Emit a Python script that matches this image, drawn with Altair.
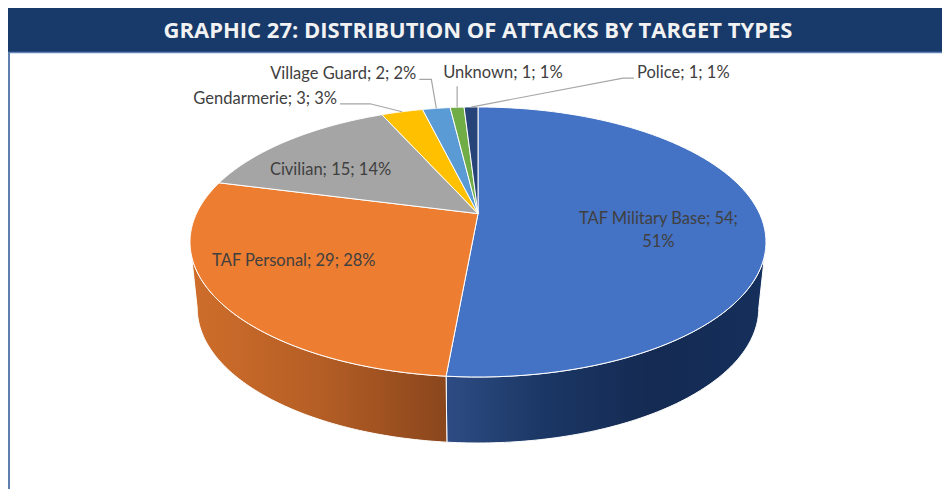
import altair as alt
import pandas as pd

# ---------------- data ----------------
categories = ["TAF Military Base", "TAF Personal", "Civilian", "Gendarmerie",
              "Village Guard", "Unknown", "Police"]
counts = [54, 29, 15, 3, 2, 1, 1]
slice_colors = ["#4472c4", "#ed7d31", "#a5a5a5", "#ffc000", "#5b9bd5", "#70ad47", "#264478"]
title_text = "GRAPHIC 27: DISTRIBUTION OF ATTACKS BY TARGET TYPES"

# ---------------- layout / style ----------------
W, H = 934, 481
CX, CY = 470, 234          # centre of the top ellipse (chart px)
A_PX, B_PX = 288, 135      # semi-axes of the top ellipse (px)
DEPTH = 66 / 135           # pie thickness in y data units
LAM = 0.808                # perspective compression of angles
C0 = (1 - LAM * LAM) / (1 + LAM * LAM)   # projected centre of the pie (y units)
N = 90                     # points per arc
BSX = 0.975                # bottom rim slightly narrower (perspective)

# label placement: r = fraction from centre to rim, dx/dy pixel offsets
label_layout = {
    "TAF Military Base": dict(r=0.6, dx=10, dy=2, align="center", wrap=1, lead=0, k=(0, 0, 0, 0)),
    "TAF Personal":      dict(r=0.6, dx=-27, dy=-3, align="center", wrap=0, lead=0, k=(0, 0, 0, 0)),
    "Civilian":          dict(r=0.6, dx=-34, dy=0, align="center", wrap=0, lead=0, k=(0, 0, 0, 0)),
    "Gendarmerie":       dict(r=1.0, dx=-65, dy=-13, align="right", wrap=0, lead=1, k=(-32, -8, -62, -8)),
    "Village Guard":     dict(r=1.0, dx=-20, dy=-34, align="right", wrap=0, lead=1, k=(-5, -29, -17, -29)),
    "Unknown":           dict(r=1.0, dx=-14, dy=-34, align="left", wrap=0, lead=1, k=(0, -21, 0, -21)),
    "Police":            dict(r=1.0, dx=166, dy=-34, align="left", wrap=0, lead=1, k=(152, -29, 163, -29)),
}

wall_gradients = {
    "TAF Military Base": [("#2e4c84", 0.0), ("#1b3765", 0.3), ("#142a52", 0.65), ("#15305c", 1.0)],
    "TAF Personal": [("#cf6e2b", 0.0), ("#b55e25", 0.5), ("#8a461c", 1.0)],
}

rows = []
for i, (c, n) in enumerate(zip(categories, counts)):
    lay = label_layout[c]
    rows.append(dict(cat=c, n=n, order=i, lr=lay["r"], ldx=lay["dx"], ldy=lay["dy"],
                     lalign=lay["align"], wrap=lay["wrap"], lead=lay["lead"],
                     k1x=lay["k"][0], k1y=lay["k"][1], k2x=lay["k"][2], k2y=lay["k"][3]))
df = pd.DataFrame(rows)

xs = alt.Scale(domain=[-1, 1], range=[CX - A_PX, CX + A_PX], nice=False, zero=False)
ys = alt.Scale(domain=[-1, 1], range=[CY + B_PX, CY - B_PX], nice=False, zero=False)
cscale = alt.Scale(domain=categories, range=slice_colors)


def phi(e):
    return f"2*atan2({LAM}*sin(({e})/2), cos(({e})/2))"


def pos(field_x="px", field_y="py"):
    return dict(x=alt.X(f"{field_x}:Q", scale=xs, axis=None),
                y=alt.Y(f"{field_y}:Q", scale=ys, axis=None))


base = alt.Chart(df).transform_joinaggregate(
    total="sum(n)"
).transform_window(
    cum="sum(n)", sort=[alt.SortField("order", order="ascending")], frame=[None, 0]
).transform_calculate(
    t0="2*PI*(datum.cum - datum.n)/datum.total",
    t1="2*PI*datum.cum/datum.total",
)

# ---- top surface ----
top = base.transform_calculate(
    pts=f"sequence(0, {N + 2})"
).transform_flatten(["pts"]).transform_calculate(
    ang=f"datum.t0 + (datum.t1 - datum.t0)*min(datum.pts, {N})/{N}",
    ph=phi("datum.ang"),
    px=f"datum.pts > {N} ? 0 : sin(datum.ph)",
    py=f"datum.pts > {N} ? {C0} : cos(datum.ph)",
).mark_line(
    interpolate="linear-closed", stroke="white", strokeWidth=1, strokeJoin="round"
).encode(
    fill=alt.Fill("cat:N", scale=cscale, legend=None),
    detail="cat:N",
    order=alt.Order("pts:Q"),
    **pos(),
)

# ---- side walls ----
wall_base = base.transform_calculate(
    p0=phi("datum.t0"),
    p1=phi("datum.t1"),
    q0="max(datum.p0, PI/2)",
    q1="min(datum.p1, 3*PI/2)",
).transform_filter("datum.q1 > datum.q0").transform_calculate(
    pts=f"sequence(0, {2 * N + 2})"
).transform_flatten(["pts"]).transform_calculate(
    kk=f"datum.pts <= {N} ? datum.pts : {2 * N + 1} - datum.pts",
    ph=f"datum.q0 + (datum.q1 - datum.q0)*datum.kk/{N}",
    px=f"sin(datum.ph) * (datum.pts <= {N} ? 1 : {BSX})",
    py=f"datum.pts <= {N} ? cos(datum.ph) : cos(datum.ph) - {DEPTH}",
)

walls = []
for cat, stops in wall_gradients.items():
    grad = alt.Gradient(gradient="linear", x1=0, x2=1, y1=0, y2=0,
                        stops=[alt.GradientStop(color=c, offset=o) for c, o in stops])
    walls.append(
        wall_base.transform_filter(f"datum.cat == '{cat}'").mark_line(
            interpolate="linear-closed", fill=grad, stroke="white", strokeWidth=1
        ).encode(detail="cat:N", order=alt.Order("pts:Q"), **pos())
    )

# ---- labels ----
lab_base = base.transform_calculate(
    mid="(datum.t0 + datum.t1)/2",
    pm=phi("datum.mid"),
    ex="sin(datum.pm)",
    ey="cos(datum.pm)",
    lx=f"datum.lr*datum.ex + datum.ldx/{A_PX}",
    ly=f"{C0} + datum.lr*(datum.ey - {C0}) - datum.ldy/{B_PX}",
    label="datum.cat + '; ' + datum.n + (datum.wrap ? ';\\n' : '; ') + format(datum.n/datum.total, '.0%')",
)

texts = []
for al in ["center", "right", "left"]:
    texts.append(
        lab_base.transform_filter(f"datum.lalign == '{al}'").mark_text(
            align=al, baseline="middle", font="Lato", fontSize=16.5, color="#404040",
            lineBreak="\n", lineHeight=23
        ).encode(text="label:N", **pos("lx", "ly"))
    )

leaders = lab_base.transform_filter("datum.lead == 1").transform_calculate(
    pts="sequence(0, 3)"
).transform_flatten(["pts"]).transform_calculate(
    px=f"datum.ex + (datum.pts == 0 ? 0 : (datum.pts == 1 ? datum.k1x : datum.k2x))/{A_PX}",
    py=f"datum.ey - (datum.pts == 0 ? 0 : (datum.pts == 1 ? datum.k1y : datum.k2y))/{B_PX}",
).mark_line(color="#a6a6a6", strokeWidth=1.2).encode(
    detail="cat:N", order=alt.Order("pts:Q"), **pos()
)

# ---- banner and frame ----
deco = pd.DataFrame({"t": [title_text]})
banner = alt.Chart(deco).mark_rect(color="#173a6a").encode(
    x=alt.value(0), x2=alt.value(W), y=alt.value(0), y2=alt.value(44)
)
banner_line = alt.Chart(deco).mark_rule(color="#6384b6", strokeWidth=1.5).encode(
    x=alt.value(0), x2=alt.value(W), y=alt.value(44.5)
)
left_border = alt.Chart(deco).mark_rule(color="#5f7fae", strokeWidth=2).encode(
    x=alt.value(1), y=alt.value(44), y2=alt.value(H)
)
title = alt.Chart(deco).mark_text(
    font="Open Sans", fontWeight="bold", fontSize=22, color="#f2f2f2",
    align="center", baseline="middle"
).encode(x=alt.value(470), y=alt.value(23), text="t:N")

chart = alt.layer(
    banner, banner_line, left_border, title, *walls, top, leaders, *texts
).properties(
    width=W, height=H, padding=0, autosize="none", background="white"
).configure_view(stroke=None)

chart.save("out.html", embed_options={"renderer": "svg", "actions": False})
